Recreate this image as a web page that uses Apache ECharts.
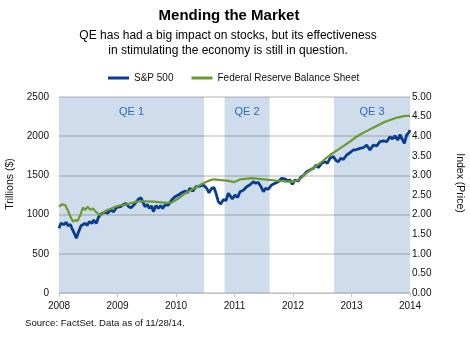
<!DOCTYPE html>
<html>
<head>
<meta charset="utf-8">
<script src="https://cdn.jsdelivr.net/npm/echarts@6/dist/echarts.min.js"></script>
<style>
html,body{margin:0;padding:0;background:#fff;}
#chart{width:470px;height:340px;}
</style>
</head>
<body>
<div id="chart"></div>
<script>
// ---- Data ----
const yearTicks = [2008, 2009, 2010, 2011, 2012, 2013, 2014];
const leftTicks = [0, 500, 1000, 1500, 2000, 2500];
const rightTicks = [0, 0.5, 1, 1.5, 2, 2.5, 3, 3.5, 4, 4.5, 5];

const spxDates = [2008.00, 2008.034, 2008.080, 2008.125, 2008.154, 2008.194, 2008.222, 2008.262, 2008.296, 2008.336,
  2008.376, 2008.410, 2008.450, 2008.479, 2008.518, 2008.564, 2008.593, 2008.638, 2008.678, 2008.735,
  2008.792, 2008.832, 2008.877, 2008.934, 2008.980, 2009.048, 2009.105, 2009.151, 2009.191, 2009.231,
  2009.288, 2009.362, 2009.402, 2009.430, 2009.470, 2009.510, 2009.544, 2009.584, 2009.613, 2009.658,
  2009.698, 2009.738, 2009.772, 2009.812, 2009.869, 2009.926, 2009.983, 2010.040, 2010.097, 2010.154,
  2010.194, 2010.239, 2010.285, 2010.342, 2010.410, 2010.467, 2010.524, 2010.564, 2010.610, 2010.650,
  2010.684, 2010.724, 2010.764, 2010.809, 2010.855, 2010.894, 2010.923, 2010.963, 2011.009, 2011.054,
  2011.094, 2011.151, 2011.208, 2011.265, 2011.322, 2011.362, 2011.407, 2011.453, 2011.493, 2011.533,
  2011.578, 2011.635, 2011.692, 2011.749, 2011.806, 2011.863, 2011.909, 2011.949, 2011.989, 2012.034,
  2012.091, 2012.137, 2012.177, 2012.234, 2012.291, 2012.348, 2012.393, 2012.433, 2012.490, 2012.547,
  2012.587, 2012.632, 2012.689, 2012.735, 2012.775, 2012.815, 2012.860, 2012.917, 2012.974, 2013.031,
  2013.088, 2013.145, 2013.202, 2013.259, 2013.316, 2013.373, 2013.430, 2013.487, 2013.544, 2013.601,
  2013.658, 2013.698, 2013.744, 2013.789, 2013.829, 2013.858, 2013.903, 2013.943, 2013.983, 2014.00];
const spxValues = [825, 889, 873, 900, 857, 873, 825, 761, 697, 783,
  857, 873, 889, 862, 910, 889, 931, 889, 973, 1016,
  1030, 1016, 1059, 1037, 1088, 1100, 1130, 1140, 1100, 1088,
  1130, 1199, 1215, 1165, 1101, 1130, 1080, 1110, 1037, 1115,
  1080, 1115, 1080, 1122, 1122, 1186, 1229, 1250, 1279, 1300,
  1279, 1335, 1300, 1356, 1364, 1378, 1335, 1279, 1335, 1345,
  1272, 1165, 1136, 1190, 1180, 1272, 1250, 1200, 1250, 1220,
  1292, 1310, 1356, 1380, 1420, 1400, 1410, 1356, 1292, 1335,
  1325, 1378, 1400, 1420, 1463, 1455, 1430, 1441, 1386, 1441,
  1430, 1480, 1496, 1548, 1569, 1590, 1630, 1600, 1654, 1675,
  1654, 1718, 1740, 1690, 1675, 1718, 1705, 1760, 1790, 1824,
  1830, 1845, 1853, 1888, 1824, 1888, 1875, 1930, 1940, 1930,
  1994, 1965, 2006, 1950, 2020, 2006, 1909, 2015, 2049, 2079];

const fedDates = [2008.00, 2008.051, 2008.108, 2008.148, 2008.194, 2008.239, 2008.279, 2008.319, 2008.365, 2008.410,
  2008.450, 2008.490, 2008.536, 2008.581, 2008.621, 2008.661, 2008.707, 2008.764, 2008.821, 2008.877,
  2008.963, 2009.048, 2009.134, 2009.219, 2009.333, 2009.447, 2009.613, 2009.841, 2009.926, 2010.040,
  2010.154, 2010.296, 2010.467, 2010.553, 2010.638, 2010.781, 2010.894, 2011.00, 2011.10, 2011.30,
  2011.50, 2011.70, 2011.90, 2012.00, 2012.12, 2012.205, 2012.291, 2012.348, 2012.462, 2012.632,
  2012.803, 2012.974, 2013.06, 2013.134, 2013.231, 2013.402, 2013.573, 2013.744, 2013.915, 2014.00];
const fedValues = [2.20, 2.26, 2.24, 2.12, 1.95, 1.82, 1.86, 1.84, 1.99, 2.18,
  2.12, 2.20, 2.12, 2.16, 2.08, 2.03, 1.99, 2.06, 2.12, 2.14,
  2.20, 2.24, 2.25, 2.29, 2.33, 2.34, 2.33, 2.30, 2.31, 2.41,
  2.54, 2.66, 2.80, 2.86, 2.90, 2.88, 2.86, 2.83, 2.90, 2.93,
  2.90, 2.87, 2.84, 2.84, 2.90, 3.03, 3.12, 3.20, 3.31, 3.52,
  3.69, 3.86, 3.96, 4.03, 4.11, 4.24, 4.37, 4.46, 4.52, 4.52];

const qeNames = ['QE 1', 'QE 2', 'QE 3'];
const qeStarts = [2008.00, 2010.83, 2012.70];
const qeEnds = [2010.48, 2011.60, 2014.00];

const seriesNames = ['S&P 500', 'Federal Reserve Balance Sheet'];

// ---- Build ----
const zip = (xs, ys) => xs.map((x, i) => [x, ys[i]]);
const FONT = '"Liberation Sans", Arial, sans-serif';
const BLUE = '#0a3d8f';
const GREEN = '#6b9b2e';

const chart = echarts.init(document.getElementById('chart'), null, {renderer: 'canvas'});
const option = {
  animation: false,
  textStyle: {fontFamily: FONT},
  grid: {left: 59, right: 60, top: 97, bottom: 47},
  legend: {
    left: 103, top: 68,
    icon: 'rect', itemWidth: 21, itemHeight: 3, itemGap: 18,
    textStyle: {fontFamily: FONT, fontSize: 10, color: '#111'},
    data: seriesNames
  },
  xAxis: {
    type: 'value', min: yearTicks[0], max: yearTicks[yearTicks.length - 1], interval: 1,
    z: 3,
    axisLine: {show: true, lineStyle: {color: '#c4c4c4', width: 1}},
    axisTick: {show: true, length: 4, lineStyle: {color: '#c4c4c4'}},
    axisLabel: {formatter: v => String(v), margin: 8, fontSize: 10, color: '#111', fontFamily: FONT},
    splitLine: {show: false}
  },
  yAxis: [
    {
      type: 'value', min: leftTicks[0], max: leftTicks[leftTicks.length - 1], interval: 500,
      z: 3,
      axisLine: {show: false}, axisTick: {show: false},
      axisLabel: {formatter: v => String(v), margin: 10, fontSize: 10, color: '#111', fontFamily: FONT},
      splitLine: {show: true, lineStyle: {color: 'rgba(110,110,110,0.35)', width: 1.5}}
    },
    {
      type: 'value', position: 'right', min: rightTicks[0], max: rightTicks[rightTicks.length - 1], interval: 0.5,
      z: 3,
      axisLine: {show: false}, axisTick: {show: false},
      axisLabel: {formatter: v => v.toFixed(2), margin: 2, fontSize: 10, color: '#111', fontFamily: FONT},
      splitLine: {show: false}
    }
  ],
  series: [
    {
      name: seriesNames[0], type: 'line', yAxisIndex: 0, z: 5,
      symbol: 'none', data: zip(spxDates, spxValues),
      lineStyle: {color: BLUE, width: 2.8}, itemStyle: {color: BLUE},
      markArea: {
        z: 1, silent: true,
        itemStyle: {color: '#cfdceb'},
        label: {show: true, position: 'insideTop', distance: 9, color: '#2e6cb0', fontSize: 11, fontFamily: FONT},
        data: qeNames.map((n, i) => [{name: n, xAxis: qeStarts[i]}, {xAxis: qeEnds[i]}])
      }
    },
    {
      name: seriesNames[1], type: 'line', yAxisIndex: 1, z: 5,
      symbol: 'none', data: zip(fedDates, fedValues),
      lineStyle: {color: GREEN, width: 2.2}, itemStyle: {color: GREEN}
    }
  ],
  graphic: [
    {type: 'text', x: 229, y: 16, style: {text: 'Mending the Market', font: 'bold 15px ' + FONT, fill: '#000', textAlign: 'center', textVerticalAlign: 'middle', align: 'center', verticalAlign: 'middle'}},
    {type: 'text', x: 228, y: 43, style: {text: 'QE has had a big impact on stocks, but its effectiveness\nin stimulating the economy is still in question.', font: '12px ' + FONT, lineHeight: 15, fill: '#000', textAlign: 'center', textVerticalAlign: 'middle', align: 'center', verticalAlign: 'middle'}},
    {type: 'text', x: 10, y: 184, rotation: Math.PI / 2, style: {text: 'Trillions ($)', font: '10.5px ' + FONT, fill: '#111', textAlign: 'center', textVerticalAlign: 'middle', align: 'center', verticalAlign: 'middle'}},
    {type: 'text', x: 460, y: 183, rotation: -Math.PI / 2, style: {text: 'Index (Price)', font: '10.5px ' + FONT, fill: '#111', textAlign: 'center', textVerticalAlign: 'middle', align: 'center', verticalAlign: 'middle'}},
    {type: 'text', x: 25, y: 323, style: {text: 'Source: FactSet. Data as of 11/28/14.', font: '9.6px ' + FONT, fill: '#111', textAlign: 'left', textVerticalAlign: 'middle', align: 'left', verticalAlign: 'middle'}}
  ]
};
chart.setOption(option);
</script>
</body>
</html>
